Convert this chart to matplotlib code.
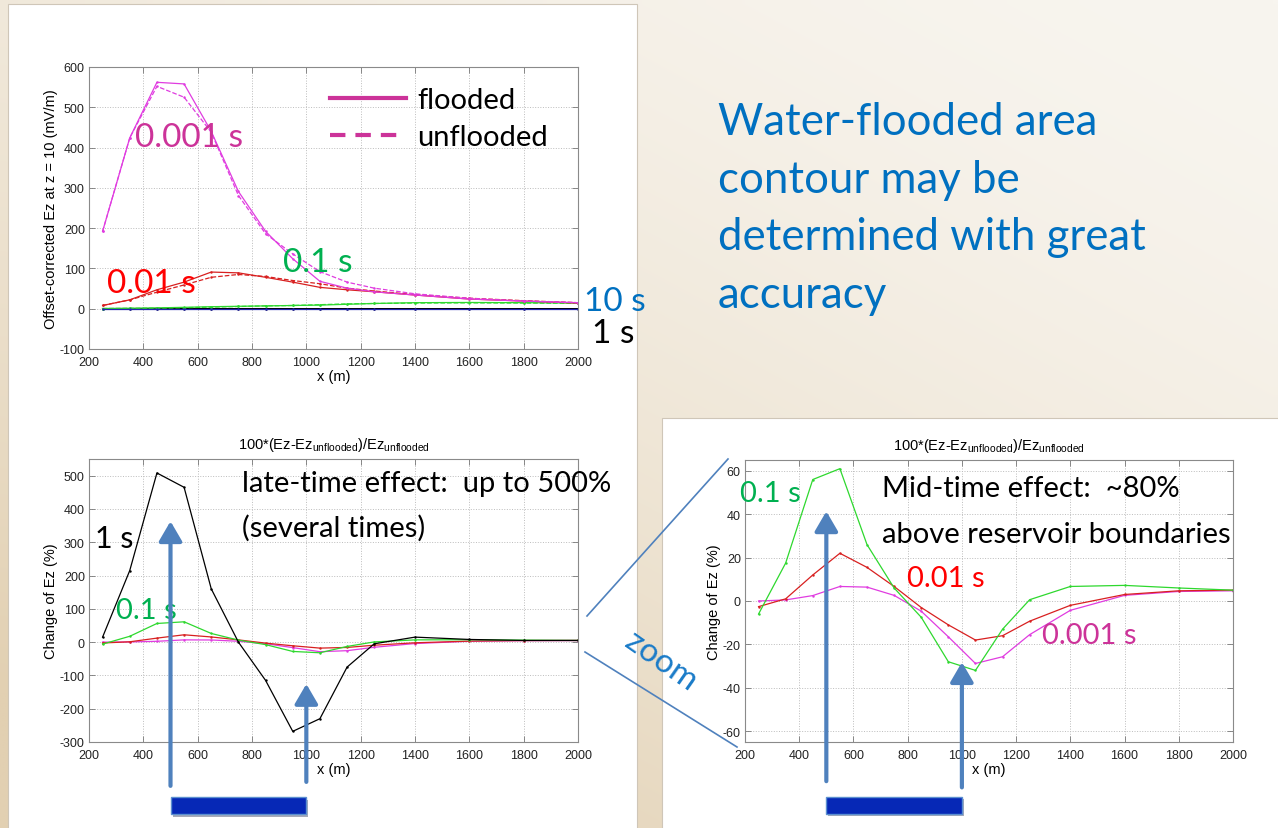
import numpy as np
import matplotlib.pyplot as plt
import matplotlib.patheffects as pe
from matplotlib.lines import Line2D
from matplotlib.patches import Rectangle
from matplotlib.transforms import blended_transform_factory

plt.rcParams['font.family'] = ['Liberation Sans', 'DejaVu Sans']
plt.rcParams['mathtext.fontset'] = 'custom'
plt.rcParams['mathtext.rm'] = 'Liberation Sans'
plt.rcParams['mathtext.it'] = 'Liberation Sans:italic'
plt.rcParams['axes.unicode_minus'] = False
SLIDE = 'Lato'

# receiver positions (m)
x = [250, 350, 450, 550, 650, 750, 850, 950, 1050, 1150, 1250, 1400, 1600, 1800, 2000]

# offset-corrected Ez at z = 10 (mV/m)
ez_0001_fl = [192, 424, 562, 558, 440, 291, 192, 124, 68, 51, 42, 34, 24, 19, 15]
ez_0001_un = [192, 424, 552, 525, 438, 281, 186, 136, 92, 66, 51, 37, 26, 19, 15]
ez_001_fl = [8, 22, 47, 66, 91, 89, 78, 66, 53, 47, 42, 34, 24, 19, 14]
ez_001_un = [8, 22, 41, 59, 78, 85, 80, 70, 62, 51, 44, 35, 26, 20, 15]
ez_01_fl = [0.5, 1, 2, 3.5, 5, 6, 7, 8, 9, 11, 13, 15, 15.5, 15, 14]
ez_01_un = [0.5, 1, 1.5, 2.5, 4, 5.5, 7, 8, 10, 12, 13, 14, 14.5, 14, 13.5]
ez_1_fl = [0.3, 0.4, 0.5, 0.5, 0.4, 0.3, 0.3, 0.2, 0.2, 0.2, 0.2, 0.2, 0.2, 0.2, 0.2]
ez_10_fl = [0.05, 0.05, 0.05, 0.05, 0.05, 0.05, 0.05, 0.05, 0.05, 0.05, 0.05, 0.05, 0.05, 0.05, 0.05]

# change of Ez, 100*(Ez - Ez_unflooded)/Ez_unflooded (%)
chg_1 = [15, 215, 508, 465, 160, 0, -115, -268, -230, -75, -5, 15, 8, 5, 5]
chg_01 = [-6, 17.5, 56, 61, 26, 6, -7.5, -28, -32, -13, 0.6, 6.7, 7.2, 6, 5]
chg_001 = [-2.6, 1, 12, 22, 15.5, 6.7, -3, -11, -18, -16, -9.3, -2, 3, 4.7, 5]
chg_0001 = [0, 0.5, 2.5, 6.7, 6.4, 2.6, -4.7, -16.5, -28.8, -25.7, -15.5, -4.3, 2.6, 4.4, 4.7]

reservoir = (500, 1000)

# line colours and label colours
M, R, G, B, K = '#e03ce0', '#d82020', '#2ed82e', '#2424b4', 'black'
LM, LR, LG, LB = '#cc3399', '#ff0000', '#00b050', '#0070c0'
ARROW = '#4f81bd'

W, H = 1278, 829
fig = plt.figure(figsize=(W / 100, H / 100), dpi=100)


def box(l, t, r, b):
    return [l / W, 1 - b / H, (r - l) / W, (b - t) / H]


# slide background
bg = fig.add_axes([0, 0, 1, 1], zorder=-10)
bg.axis('off')
yy, xx = np.mgrid[0:1:83j, 0:1:128j]
t = np.clip(0.6 * yy + 0.5 * (1 - xx), 0, 1) ** 1.6
light = np.array([248, 245, 239]) / 255
dark = np.array([226, 208, 178]) / 255
bg.imshow(light + (dark - light) * t[..., None], extent=[0, W, H, 0],
          aspect='auto', interpolation='bilinear')
bg.set_xlim(0, W)
bg.set_ylim(H, 0)
bg.add_patch(Rectangle((8, 5), 629, 830, fc='white', ec='#cfc6b8', lw=0.8))
bg.add_patch(Rectangle((662, 419), 620, 420, fc='white', ec='#cfc6b8', lw=0.8))


def style(ax, ylim, yticks):
    ax.set_xlim(200, 2000)
    ax.set_xticks(range(200, 2001, 200))
    ax.set_ylim(*ylim)
    ax.set_yticks(yticks)
    ax.grid(True, ls=':', color='#bcbcbc', lw=0.7)
    ax.tick_params(direction='in', top=True, right=True, length=4, width=0.6,
                   color='#777777', labelsize=9, labelcolor='#222222', pad=3)
    ax.tick_params(axis='x', pad=5)
    for s in ax.spines.values():
        s.set_color('#8a8a8a')
        s.set_linewidth(0.8)
    ax.set_xlabel('x (m)', fontsize=10.5, labelpad=1)


def label(ax, xd, yd, s, c, size=21):
    ax.text(xd, yd, s, color=c, fontsize=size, family=SLIDE, va='baseline', clip_on=False)


title = '100*(Ez-Ez$_{\\rm unflooded}$)/Ez$_{\\rm unflooded}$'
kw = dict(lw=0.9, marker='.', ms=1.5)

# top: Ez profiles
ax1 = fig.add_axes(box(89, 68, 578, 350))
ax1.plot(x, ez_1_fl, color=K, **kw)
ax1.plot(x, ez_01_un, color=G, ls='--', **kw)
ax1.plot(x, ez_01_fl, color=G, **kw)
ax1.plot(x, ez_10_fl, color=B, **kw)
ax1.plot(x, ez_001_un, color=R, ls='--', **kw)
ax1.plot(x, ez_001_fl, color=R, **kw)
ax1.plot(x, ez_0001_un, color=M, ls='--', **kw)
ax1.plot(x, ez_0001_fl, color=M, **kw)
style(ax1, (-100, 600), range(-100, 601, 100))
ax1.set_ylabel('Offset-corrected Ez at z = 10 (mV/m)', fontsize=10.5, labelpad=1)
label(ax1, 369, 405, '0.001 s', LM, 24)
label(ax1, 266, 42, '0.01 s', LR, 24)
label(ax1, 914, 94, '0.1 s', LG, 24)
label(ax1, 2022, -4, '10 s', LB, 24)
label(ax1, 2051, -82, '1 s', K, 24)
ax1.legend(handles=[Line2D([], [], color=LM, lw=3),
                    Line2D([], [], color=LM, lw=3, ls=(0, (3.7, 2.4)))],
           labels=['flooded', 'unflooded'], prop={'family': SLIDE, 'size': 21},
           frameon=False, loc='upper left', bbox_to_anchor=(0.493, 0.93),
           borderpad=0, borderaxespad=0, handlelength=2.6, handletextpad=0.38,
           labelspacing=0.4)

# bottom left: relative change, all times
ax2 = fig.add_axes(box(89, 460, 578, 743))
ax2.plot(x, chg_0001, color=M, **kw)
ax2.plot(x, chg_001, color=R, **kw)
ax2.plot(x, chg_01, color=G, **kw)
ax2.plot(x, chg_1, color=K, **kw)
style(ax2, (-300, 550), range(-300, 501, 100))
ax2.set_ylabel('Change of Ez (%)', fontsize=10.5, labelpad=1)
ax2.set_title(title, fontsize=10.5, pad=8)
label(ax2, 763, 455, 'late-time effect:  up to 500%', K)
label(ax2, 763, 319, '(several times)', K)
label(ax2, 222, 286, '1 s', K, 22)
label(ax2, 299, 72, '0.1 s', LG)

# bottom right: zoom on the early and mid times
ax3 = fig.add_axes(box(745, 461, 1233, 743))
ax3.plot(x, chg_0001, color=M, **kw)
ax3.plot(x, chg_001, color=R, **kw)
ax3.plot(x, chg_01, color=G, **kw)
style(ax3, (-65, 65), range(-60, 61, 20))
ax3.set_ylabel('Change of Ez (%)', fontsize=10.5, labelpad=1)
ax3.set_title(title, fontsize=10.5, pad=8)
label(ax3, 182, 46, '0.1 s', LG)
label(ax3, 705, 48.4, 'Mid-time effect:  ~80%', K)
label(ax3, 705, 27.2, 'above reservoir boundaries', K)
label(ax3, 798, 6.9, '0.01 s', LR)
label(ax3, 1296, -19.2, '0.001 s', LM)

# reservoir edges: arrows and the reservoir bar under each change plot
arrows = {ax2: [(0.78, -0.155), (0.205, -0.141)],
          ax3: [(0.818, -0.139), (0.283, -0.161)]}
for ax, spans in arrows.items():
    tr = blended_transform_factory(ax.transData, ax.transAxes)
    for xr, (tip, tail) in zip(reservoir, spans):
        ax.annotate('', xy=(xr, tip), xycoords=tr, xytext=(xr, tail), textcoords=tr,
                    arrowprops=dict(arrowstyle='-|>,head_length=0.6,head_width=0.35',
                                    color=ARROW, lw=3, shrinkA=0, shrinkB=0,
                                    mutation_scale=20),
                    annotation_clip=False)
    ax.add_patch(Rectangle((reservoir[0], -0.256), reservoir[1] - reservoir[0], 0.06,
                           transform=tr, fc='#0628b6', ec='#5b8fd0', lw=1, clip_on=False,
                           path_effects=[pe.withSimplePatchShadow(offset=(1.5, -1.5),
                                                                  alpha=0.35)]))

# overlay: zoom guides and slide text
ov = fig.add_axes([0, 0, 1, 1], zorder=5)
ov.axis('off')
ov.patch.set_visible(False)
ov.set_xlim(0, W)
ov.set_ylim(H, 0)
ov.plot([587, 728], [617, 460], color=ARROW, lw=1.2)
ov.plot([585, 737], [653, 748], color=ARROW, lw=1.2)
ov.text(661, 662, 'zoom', rotation=-35, fontsize=24, color='#1a7bc8', family=SLIDE,
        ha='center', va='center', rotation_mode='anchor')

lines = ['Water-flooded area', 'contour may be', 'determined with great', 'accuracy']
for i, s in enumerate(lines):
    ov.text(718, 135 + 57.5 * i, s, fontsize=31.5, color='#0070c0', family=SLIDE,
            va='baseline')

fig.savefig('out.png', dpi=100)
